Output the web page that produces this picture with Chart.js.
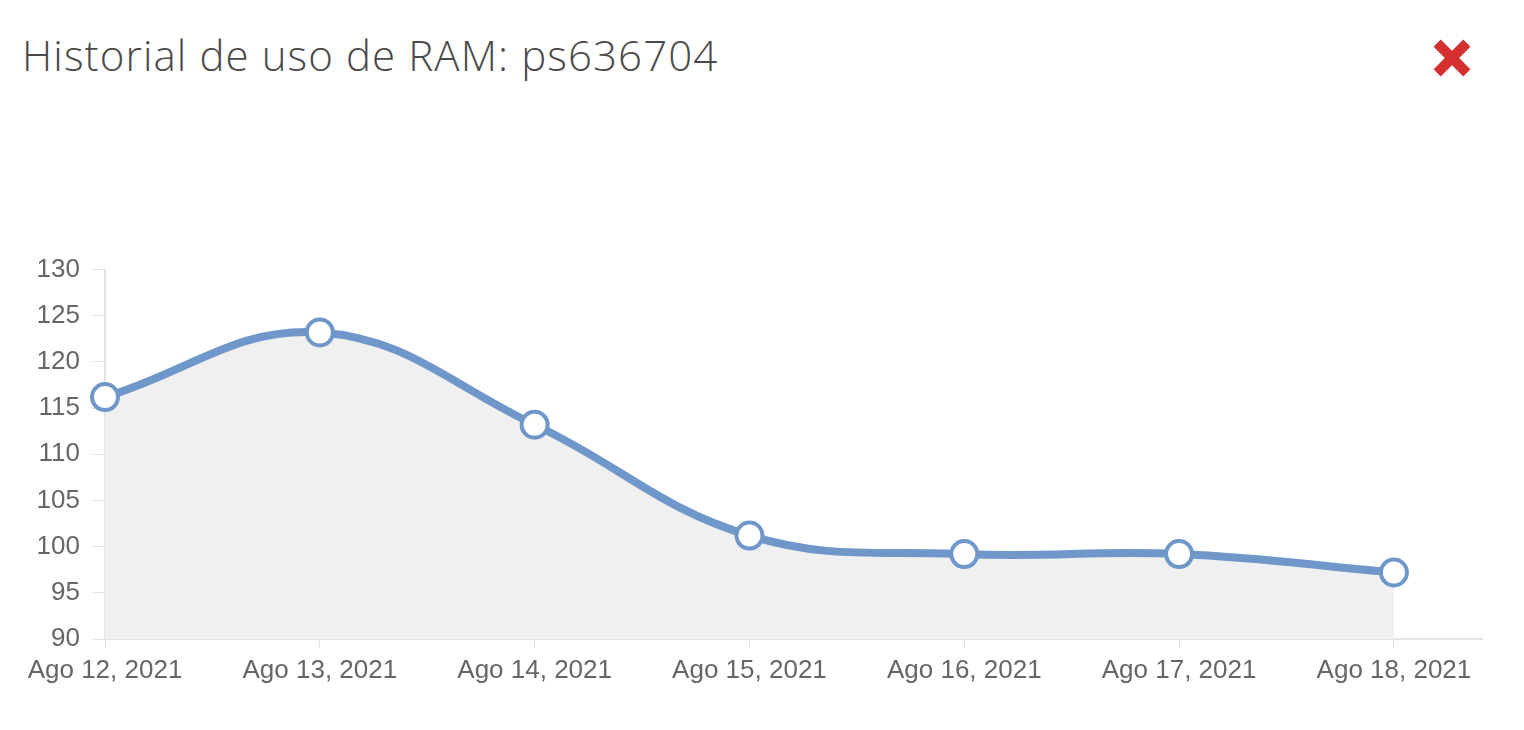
<!DOCTYPE html>
<html>
<head>
<meta charset="utf-8">
<script src="https://cdn.jsdelivr.net/npm/chart.js@4/dist/chart.umd.min.js"></script>
<style>
  html, body { margin:0; padding:0; background:#fff; width:1524px; height:730px; overflow:hidden; }
  #title { position:absolute; left:22px; top:26px; font-family:"Open Sans", sans-serif; font-weight:300; font-size:42px; color:#4a4a4a; white-space:nowrap; letter-spacing:1.1px; }
  #close { position:absolute; left:1433px; top:40px; width:38px; height:36px; }
  #close div { position:absolute; left:-2px; top:13px; width:42px; height:10px; background:#d3302f; }
  #close .a { transform:rotate(45deg); }
  #close .b { transform:rotate(-45deg); }
  #wrap { position:absolute; left:0; top:242px; width:1500px; height:457px; }
</style>
</head>
<body>
<div id="title">Historial de uso de RAM: ps636704</div>
<div id="close"><div class="a"></div><div class="b"></div></div>
<div id="wrap"><canvas id="c"></canvas></div>
<script>
const categories = ["Ago 12, 2021","Ago 13, 2021","Ago 14, 2021","Ago 15, 2021","Ago 16, 2021","Ago 17, 2021","Ago 18, 2021"];
const ramValues = [116.2, 123.2, 113.2, 101.2, 99.2, 99.2, 97.2];
const yTicks = [90, 95, 100, 105, 110, 115, 120, 125, 130];

const points = ramValues.map((v, i) => ({x: i, y: v}));

new Chart(document.getElementById('c'), {
  type: 'line',
  data: {
    datasets: [{
      data: points,
      borderColor: '#6f97c9',
      borderWidth: 8,
      backgroundColor: '#f0f0f0',
      fill: 'start',
      tension: 0.4,
      clip: false,
      pointRadius: 13,
      pointBorderWidth: 4,
      pointBackgroundColor: '#ffffff',
      pointBorderColor: '#6f97c9'
    }]
  },
  options: {
    responsive: true,
    maintainAspectRatio: false,
    animation: false,
    layout: { padding: { top: 20, right: 18, left: 0, bottom: 0 } },
    plugins: { legend: { display: false }, tooltip: { enabled: false } },
    scales: {
      x: {
        type: 'linear',
        min: 0,
        max: 6.41,
        afterBuildTicks: (s) => { s.ticks = categories.map((c, i) => ({value: i})); },
        afterFit: (s) => { s.height = 60; },
        ticks: {
          includeBounds: false,
          stepSize: 1,
          autoSkip: false,
          maxRotation: 0,
          color: '#666',
          font: { family: 'Liberation Sans', size: 26 },
          padding: 7,
          callback: (v) => categories[v]
        },
        grid: { drawOnChartArea: false, drawTicks: true, tickLength: 9, color: '#e3e3e3' },
        border: { color: '#e3e3e3', width: 2 }
      },
      y: {
        min: yTicks[0],
        max: yTicks[yTicks.length - 1],
        afterBuildTicks: (s) => { s.ticks = yTicks.map(v => ({value: v})); },
        afterFit: (s) => { s.width = 105; },
        ticks: {
          color: '#666',
          font: { family: 'Liberation Sans', size: 26 },
          padding: 12
        },
        grid: { drawOnChartArea: false, drawTicks: true, tickLength: 13, color: '#e3e3e3' },
        border: { color: '#e3e3e3', width: 2 }
      }
    }
  }
});
</script>
</body>
</html>
